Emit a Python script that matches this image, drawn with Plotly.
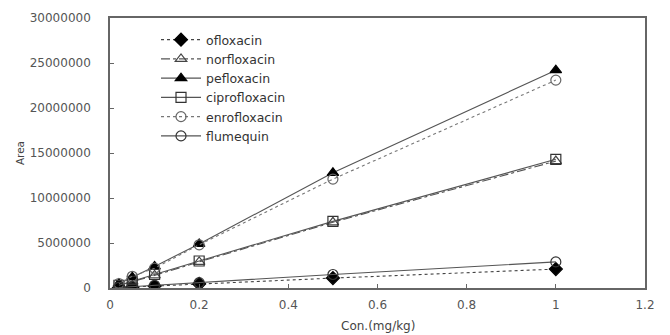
import plotly.graph_objects as go

conc = [0.02, 0.05, 0.1, 0.2, 0.5, 1.0]
ofloxacin = [40000, 110000, 220000, 450000, 1100000, 2100000]
norfloxacin = [290000, 700000, 1400000, 2900000, 7300000, 14100000]
pefloxacin = [480000, 1200000, 2400000, 4900000, 12800000, 24200000]
ciprofloxacin = [300000, 750000, 1500000, 3000000, 7400000, 14300000]
enrofloxacin = [500000, 1300000, 2200000, 4800000, 12100000, 23100000]
flumequin = [60000, 150000, 300000, 600000, 1500000, 2900000]

y_ticks = [0, 5000000, 10000000, 15000000, 20000000, 25000000, 30000000]
y_ticklabels = ["0", "5000000", "10000000", "15000000", "20000000", "25000000", "30000000"]
x_ticks = [0, 0.2, 0.4, 0.6, 0.8, 1, 1.2]
x_ticklabels = ["0", "0.2", "0.4", "0.6", "0.8", "1", "1.2"]

series = [
    ("ofloxacin", ofloxacin, "diamond", "black", "dot", "#444"),
    ("norfloxacin", norfloxacin, "triangle-up-open", "#444", "dashdot", "#555"),
    ("pefloxacin", pefloxacin, "triangle-up", "black", "solid", "#555"),
    ("ciprofloxacin", ciprofloxacin, "square-open", "#333", "solid", "#555"),
    ("enrofloxacin", enrofloxacin, "circle-open", "#666", "dot", "#777"),
    ("flumequin", flumequin, "circle-open", "#333", "solid", "#555"),
]

FONT = "DejaVu Sans, Liberation Sans, Arial"

fig = go.Figure()
for name, vals, sym, mcol, dash, lcol in series:
    fig.add_trace(go.Scatter(
        x=conc, y=vals, name=name, mode="lines+markers",
        line=dict(color=lcol, width=1.1, dash=dash),
        marker=dict(symbol=sym, size=10, color=mcol, line=dict(color=mcol, width=1.2)),
    ))

axis_common = dict(
    showgrid=False, zeroline=False, showline=True, linecolor="#666", linewidth=1.6,
    mirror=True, ticks="inside", ticklen=4, tickcolor="#666", automargin=False,
    tickfont=dict(family=FONT, size=12, color="#555"),
)
fig.update_xaxes(range=[0, 1.2], tickvals=x_ticks, ticktext=x_ticklabels,
                 ticklabelstandoff=5, **axis_common)
fig.update_yaxes(range=[0, 30000000], tickvals=y_ticks, ticktext=y_ticklabels,
                 ticklabelstandoff=15, **axis_common)

fig.add_annotation(text="Area", xref="paper", yref="paper", x=-0.168, y=0.5,
                   xanchor="center", yanchor="middle", textangle=-90, showarrow=False,
                   font=dict(family=FONT, size=10.5, color="#444"))
fig.add_annotation(text="Con.(mg/kg)", xref="paper", yref="paper", x=0.5, y=-0.141,
                   xanchor="center", yanchor="middle", showarrow=False,
                   font=dict(family=FONT, size=12, color="#444"))

# page body has an 8px default margin; offsets compensate for it
fig.update_layout(
    width=662, height=327,
    margin=dict(l=102, r=25, t=10, b=47),
    plot_bgcolor="white", paper_bgcolor="white",
    legend=dict(x=0.086, y=0.974, xanchor="left", yanchor="top",
                font=dict(family=FONT, size=12.5, color="#333"),
                bgcolor="rgba(0,0,0,0)", tracegroupgap=0, itemwidth=40),
)

fig.write_html("out.html")
